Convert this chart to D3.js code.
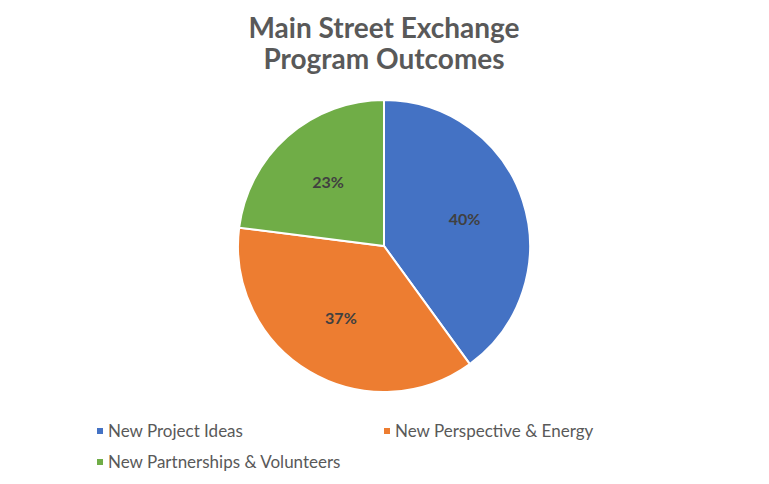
<!DOCTYPE html>
<html><head><meta charset="utf-8">
<script src="https://cdn.jsdelivr.net/npm/d3@7"></script>
<style>body{margin:0;background:#fff}</style>
</head><body>
<svg id="chart" width="769" height="484"></svg>
<script>
const categories = ['New Project Ideas', 'New Perspective & Energy', 'New Partnerships & Volunteers'];
const values = [40, 37, 23];
const colors = ['#4472C4', '#ED7D31', '#70AD47'];
const titleLines = ['Main Street Exchange', 'Program Outcomes'];

const svg = d3.select('#chart');
const cx = 384, cy = 246, r = 146;

svg.selectAll('text.title')
    .data(titleLines)
    .enter()
    .append('text')
    .attr('class', 'title')
    .attr('x', 384)
    .attr('y', (d, i) => 38 + i * 31)
    .attr('text-anchor', 'middle')
    .style('font-family', 'Lato, sans-serif')
    .style('font-weight', 'bold')
    .style('font-size', '28px')
    .style('fill', '#595959')
    .text(d => d);

const pie = d3.pie().sort(null).value(d => d);
const arc = d3.arc().innerRadius(0).outerRadius(r);
const labelArc = d3.arc().innerRadius(r * 0.58).outerRadius(r * 0.58);

const g = svg.append('g').attr('transform', `translate(${cx},${cy})`);
const arcs = pie(values);

g.selectAll('path')
    .data(arcs)
    .enter()
    .append('path')
    .attr('d', arc)
    .attr('fill', (d, i) => colors[i])
    .attr('stroke', '#fff')
    .attr('stroke-width', 2);

g.selectAll('text')
    .data(arcs)
    .enter()
    .append('text')
    .attr('transform', d => `translate(${labelArc.centroid(d)})`)
    .attr('text-anchor', 'middle')
    .attr('dy', '0.35em')
    .style('font-family', 'Lato, sans-serif')
    .style('font-weight', 'bold')
    .style('font-size', '16px')
    .style('fill', '#404040')
    .text(d => d.data + '%');

// Legend
const legendPos = [[100, 431], [387, 431], [100, 462]];
const legend = svg.selectAll('g.legend-item')
    .data(categories)
    .enter()
    .append('g')
    .attr('class', 'legend-item')
    .attr('transform', (d, i) => `translate(${legendPos[i][0]},${legendPos[i][1]})`);

legend.append('rect')
    .attr('x', -3).attr('y', -3)
    .attr('width', 6).attr('height', 6)
    .attr('fill', (d, i) => colors[i]);

legend.append('text')
    .attr('x', 8)
    .attr('dy', '0.35em')
    .style('font-family', 'Lato, sans-serif')
    .style('font-size', '17px')
    .style('fill', '#595959')
    .text(d => d);
</script>
</body></html>
